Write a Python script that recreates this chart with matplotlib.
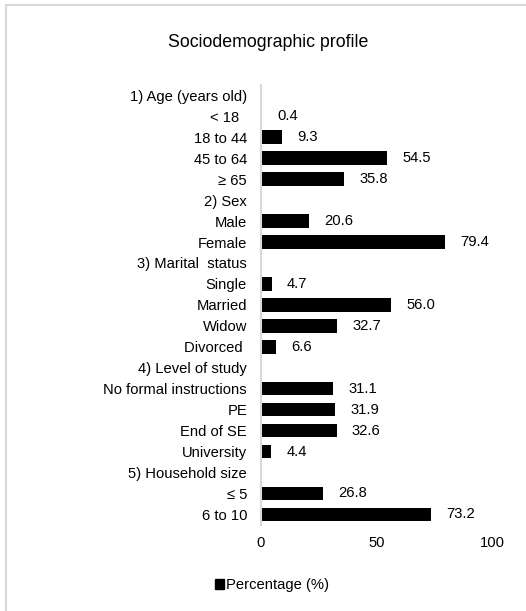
import matplotlib.pyplot as plt
import numpy as np
from matplotlib.patches import Rectangle

plt.rcParams['font.family'] = ['Liberation Sans', 'DejaVu Sans']

labels = ['1) Age (years old)', '< 18  ', '18 to 44', '45 to 64', '≥ 65',
          '2) Sex', 'Male', 'Female',
          '3) Marital  status', 'Single', 'Married', 'Widow', 'Divorced ',
          '4) Level of study', 'No formal instructions', 'PE', 'End of SE', 'University',
          '5) Household size', '≤ 5', '6 to 10']
values = [np.nan, 0.4, 9.3, 54.5, 35.8,
          np.nan, 20.6, 79.4,
          np.nan, 4.7, 56.0, 32.7, 6.6,
          np.nan, 31.1, 31.9, 32.6, 4.4,
          np.nan, 26.8, 73.2]

fig = plt.figure(figsize=(5.26, 6.11), dpi=100)
ax = fig.add_axes([0.496, 0.141, 0.441, 0.72])

fs = 10.6
y = np.arange(len(labels))
vals = np.array(values)
ax.barh(y, np.nan_to_num(vals), height=0.65, color='black')
for yi, v in zip(y, vals):
    if not np.isnan(v):
        ax.annotate(f'{v:.1f}', (v, yi), xytext=(11, 0), textcoords='offset points',
                    va='center', ha='left', fontsize=fs)

ax.set_yticks(y)
ax.set_yticklabels(labels, fontsize=fs)
ax.set_ylim(len(labels) - 0.5, -0.5)
ax.set_xlim(0, 100)
ax.set_xticks([0, 50, 100])
ax.tick_params(axis='x', labelsize=fs, length=0, pad=8)
ax.tick_params(axis='y', length=0, pad=10)
for s in ['top', 'right', 'bottom']:
    ax.spines[s].set_visible(False)
ax.spines['left'].set_color('#d9d9d9')
ax.spines['left'].set_linewidth(1.5)

fig.text(0.51, 0.931, 'Sociodemographic profile', ha='center', va='center', fontsize=12.8)

# legend
handle = Rectangle((0, 0), 1, 1, color='black')
fig.legend([handle], ['Percentage (%)'], loc='center', bbox_to_anchor=(0.517, 0.042),
           frameon=False, fontsize=fs, handlelength=0.6, handleheight=0.6, handletextpad=0.1)

# outer border (only top and left edges fall inside the image)
fig.patches.append(Rectangle((0.012, -0.05), 1.1, 1.042, transform=fig.transFigure,
                             fill=False, edgecolor='#d9d9d9', linewidth=1.5))

fig.savefig('out.png', dpi=100)
